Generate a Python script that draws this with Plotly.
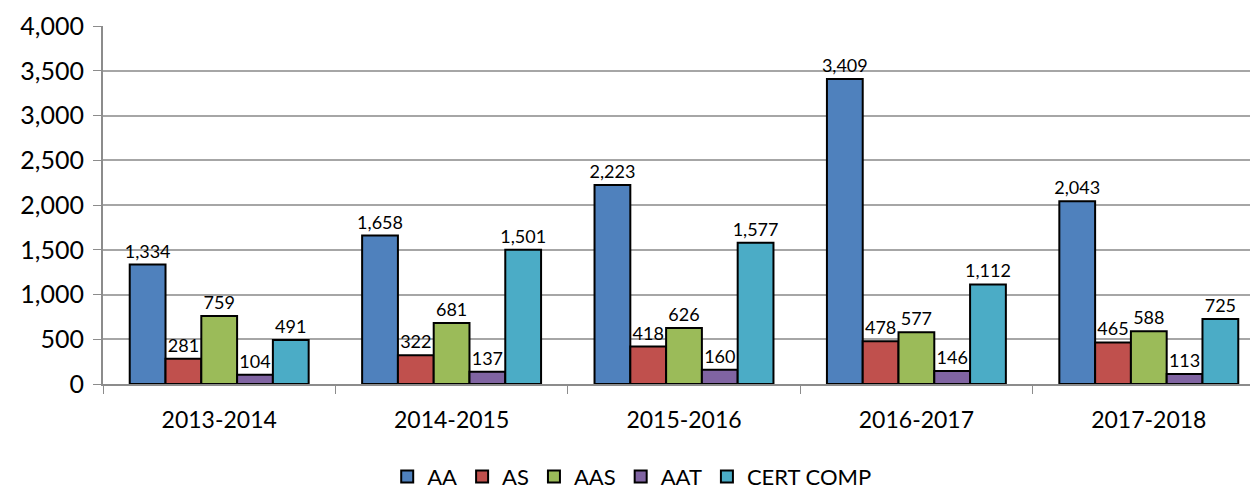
import plotly.graph_objects as go

years = ["2013-2014", "2014-2015", "2015-2016", "2016-2017", "2017-2018"]
aa = [1334, 1658, 2223, 3409, 2043]
as_ = [281, 322, 418, 478, 465]
aas = [759, 681, 626, 577, 588]
aat = [104, 137, 160, 146, 113]
cert_comp = [491, 1501, 1577, 1112, 725]

series = [
    ("AA", aa, "#4F81BD"),
    ("AS", as_, "#C0504D"),
    ("AAS", aas, "#9BBB59"),
    ("AAT", aat, "#8064A2"),
    ("CERT COMP", cert_comp, "#4BACC6"),
]

FONT = "Lato, 'Open Sans', sans-serif"

fig = go.Figure()
for name, vals, color in series:
    fig.add_bar(
        x=years, y=vals, name=name,
        marker=dict(color=color, line=dict(color="black", width=2)),
        text=[f"{v:,}" for v in vals],
        textposition="outside",
        textfont=dict(size=18, color="black", family=FONT),
        cliponaxis=False,
    )

fig.update_layout(
    width=1258, height=491,
    barmode="group", bargap=0.23, bargroupgap=0,
    plot_bgcolor="white", paper_bgcolor="white",
    margin=dict(l=95, r=1, t=18, b=105),
    font=dict(family=FONT, color="black"),
    # keep every data label at the same size instead of shrinking to bar width
    uniformtext=dict(mode="show", minsize=18),
    legend=dict(
        orientation="h", x=0.455, xanchor="center", y=-0.2, yanchor="top",
        font=dict(size=22), itemwidth=30, traceorder="normal",
    ),
)
fig.update_yaxes(
    range=[0, 4000], dtick=500, tickformat=",",
    showgrid=True, gridcolor="#A6A6A6", gridwidth=1.5,
    showline=True, linecolor="#8C8C8C", linewidth=2,
    ticks="outside", ticklen=8, tickcolor="#8C8C8C",
    tickfont=dict(size=25), ticklabelstandoff=4,
    zeroline=False,
)
fig.update_xaxes(
    showline=True, linecolor="#8C8C8C", linewidth=2,
    ticks="outside", ticklen=8, tickcolor="#8C8C8C", tickson="boundaries",
    tickfont=dict(size=23), ticklabelstandoff=14,
)

fig.write_html("out.html")
